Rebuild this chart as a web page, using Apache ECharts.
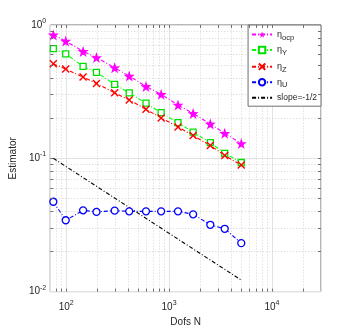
<!DOCTYPE html>
<html lang="en">
<head>
    <meta charset="UTF-8">
    <title>Estimator</title>
    <script src="https://cdn.jsdelivr.net/npm/echarts@6/dist/echarts.min.js"></script>
    <style>
        html, body { margin: 0; padding: 0; background: #fff; }
        #main { width: 354px; height: 332px; }
    </style>
</head>
<body>
    <div id="main"></div>
    <script>
        // 数据
        var dofs = [75, 99, 146, 197, 296, 410, 597, 838, 1222, 1714, 2518, 3476, 5035];
        var etaOcp = [0.843, 0.757, 0.634, 0.570, 0.478, 0.414, 0.346, 0.302, 0.251, 0.217, 0.181, 0.154, 0.129];
        var etaY = [0.664, 0.607, 0.489, 0.441, 0.359, 0.310, 0.259, 0.220, 0.185, 0.157, 0.131, 0.109, 0.093];
        var etaZ = [0.511, 0.467, 0.407, 0.364, 0.310, 0.274, 0.233, 0.201, 0.172, 0.148, 0.125, 0.105, 0.089];
        var etaU = [0.0472, 0.0343, 0.0407, 0.0396, 0.0405, 0.0400, 0.0400, 0.0400, 0.0400, 0.0380, 0.0317, 0.0296, 0.0231];
        var slopeN = [75, 5035];
        var slopeV = [0.1, 0.0122];
        var xMinor = [80, 90, 200, 300, 400, 500, 600, 700, 800, 900, 2000, 3000, 4000, 5000, 6000, 7000, 8000, 9000, 20000];
        var yMinor = [0.02, 0.03, 0.04, 0.05, 0.06, 0.07, 0.08, 0.09, 0.2, 0.3, 0.4, 0.5, 0.6, 0.7, 0.8, 0.9];
        var xMajor = [100, 1000, 10000];
        var yMajor = [0.1];

        var xMin = 70, xMax = 30000, yMin = 0.01, yMax = 1;

        function pairs(xs, ys) {
            return xs.map(function (x, i) { return [x, ys[i]]; });
        }

        var axisColor = '#6e6e6e';
        var txtColor = '#262626';

        // 10^n 刻度标签
        function powLabel(v) {
            var l = Math.log10(v);
            var e = Math.round(l);
            if (Math.abs(l - e) > 1e-6) return '';
            return '{b|10}{s|' + e + '}';
        }
        var powRich = {
            b: { fontSize: 10, color: txtColor, fontFamily: 'Liberation Sans' },
            s: { fontSize: 7, color: txtColor, fontFamily: 'Liberation Sans', padding: [0, 0, 8, 0] }
        };

        // 次网格线
        var minorGrid = [];
        xMinor.forEach(function (v) { minorGrid.push({ coords: [[v, yMin], [v, yMax]] }); });
        yMinor.forEach(function (v) { minorGrid.push({ coords: [[xMin, v], [xMax, v]] }); });

        // 刻度（朝内，四边）
        var tx = Math.pow(10, 3 / 104.5), ty = Math.pow(10, 3 / 135);
        var tickSegs = [];
        xMinor.concat(xMajor).forEach(function (v) {
            tickSegs.push({ coords: [[v, yMin], [v, yMin * ty]] });
            tickSegs.push({ coords: [[v, yMax], [v, yMax / ty]] });
        });
        yMinor.concat(yMajor).forEach(function (v) {
            tickSegs.push({ coords: [[xMin, v], [xMin * tx, v]] });
            tickSegs.push({ coords: [[xMax, v], [xMax / tx, v]] });
        });

        var dashDot = [4, 2, 1, 2];
        var starPath = 'path://M0,-10L2.35,-3.24L9.51,-3.09L3.8,1.24L5.88,8.09L0,4L-5.88,8.09L-3.8,1.24L-9.51,-3.09L-2.35,-3.24Z';
        var crossPath = 'path://M0,0L10,10M10,0L0,10';

        var myChart = echarts.init(document.getElementById('main'), null, { renderer: 'canvas' });

        var option = {
            animation: false,
            backgroundColor: '#fff',
            grid: { left: 46, right: 33, top: 25, bottom: 37, show: true, borderColor: axisColor, borderWidth: 1 },
            legend: {
                orient: 'vertical',
                right: 33,
                top: 25,
                itemWidth: 20,
                itemHeight: 8,
                itemGap: 4,
                padding: [5, 4, 4, 3],
                backgroundColor: '#fff',
                borderColor: axisColor,
                borderWidth: 1,
                borderRadius: 0,
                data: ['ocp', 'Y', 'Z', 'U', { name: 'slope=-1/2', itemStyle: { opacity: 0 } }],
                formatter: function (name) {
                    if (name.indexOf('slope') === 0) return '{t|' + name + '}';
                    return '{e|η}{sub|' + name + '}';
                },
                textStyle: {
                    color: txtColor,
                    rich: {
                        t: { fontSize: 8.5, color: txtColor, fontFamily: 'Liberation Sans' },
                        e: { fontSize: 9, color: txtColor, fontFamily: 'Liberation Sans' },
                        sub: { fontSize: 7.5, color: txtColor, fontFamily: 'Liberation Sans', padding: [6, 0, 0, 0] }
                    }
                }
            },
            xAxis: {
                type: 'log',
                logBase: 10,
                min: xMin,
                max: xMax,
                name: 'Dofs N',
                nameLocation: 'middle',
                nameGap: 20,
                nameTextStyle: { fontSize: 10, color: txtColor, fontFamily: 'Liberation Sans' },
                axisLine: { show: false },
                axisTick: { show: false },
                axisLabel: { formatter: powLabel, rich: powRich, margin: 8, showMinLabel: false, showMaxLabel: false },
                splitLine: { show: true, lineStyle: { color: '#e2e2e2', width: 1 } }
            },
            yAxis: {
                type: 'log',
                logBase: 10,
                min: yMin,
                max: yMax,
                name: 'Estimator',
                nameLocation: 'middle',
                nameGap: 28,
                nameTextStyle: { fontSize: 10, color: txtColor, fontFamily: 'Liberation Sans' },
                axisLine: { show: false },
                axisTick: { show: false },
                axisLabel: { formatter: powLabel, rich: powRich, margin: 4 },
                splitLine: { show: true, lineStyle: { color: '#e2e2e2', width: 1 } }
            },
            series: [{
                type: 'lines',
                coordinateSystem: 'cartesian2d',
                silent: true,
                data: minorGrid,
                lineStyle: { color: '#d4d4d4', type: [1, 2], width: 1, opacity: 1 },
                z: 1
            }, {
                type: 'lines',
                coordinateSystem: 'cartesian2d',
                silent: true,
                data: tickSegs,
                lineStyle: { color: axisColor, type: 'solid', width: 1, opacity: 1 },
                z: 6
            }, {
                name: 'ocp',
                type: 'line',
                data: pairs(dofs, etaOcp),
                color: '#ff00ff',
                symbol: starPath,
                symbolSize: 11,
                itemStyle: { color: '#ff00ff' },
                lineStyle: { color: '#ff00ff', width: 1.1, type: dashDot },
                z: 5
            }, {
                name: 'Y',
                type: 'line',
                data: pairs(dofs, etaY),
                color: '#00ff00',
                symbol: 'rect',
                symbolSize: 6,
                itemStyle: { color: '#fff', borderColor: '#00e000', borderWidth: 1.3 },
                lineStyle: { color: '#00ff00', width: 1.1, type: dashDot },
                z: 5
            }, {
                name: 'Z',
                type: 'line',
                data: pairs(dofs, etaZ),
                color: '#ff0000',
                symbol: crossPath,
                symbolSize: 7,
                itemStyle: { color: 'none', borderColor: '#ff0000', borderWidth: 1.4 },
                lineStyle: { color: '#ff0000', width: 1.1, type: dashDot },
                z: 5
            }, {
                name: 'U',
                type: 'line',
                data: pairs(dofs, etaU),
                color: '#0000ff',
                symbol: 'circle',
                symbolSize: 7,
                itemStyle: { color: '#fff', borderColor: '#0000ff', borderWidth: 1.3 },
                lineStyle: { color: '#0000ff', width: 1.1, type: dashDot },
                z: 5
            }, {
                name: 'slope=-1/2',
                type: 'line',
                data: pairs(slopeN, slopeV),
                color: '#000',
                symbol: 'none',
                lineStyle: { color: '#000', width: 1.1, type: dashDot },
                z: 4
            }]
        };

        myChart.setOption(option);
        window.onresize = myChart.resize;
    </script>
</body>
</html>
